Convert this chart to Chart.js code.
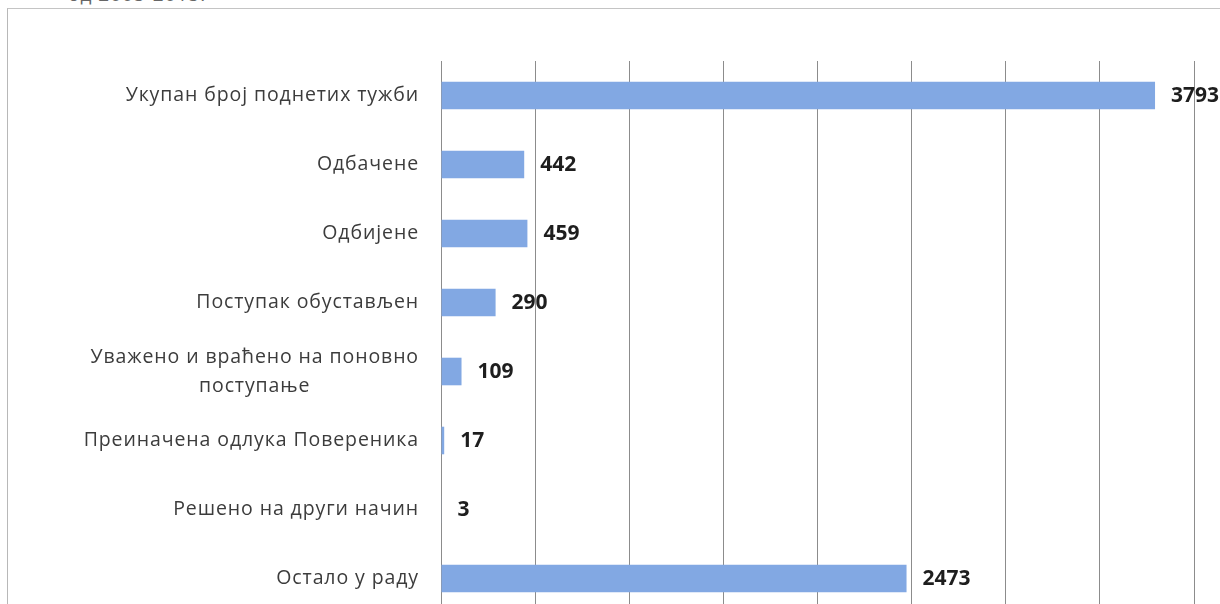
<!DOCTYPE html>
<html>
<head>
<meta charset="utf-8">
<script src="https://cdn.jsdelivr.net/npm/chart.js@4"></script>
<style>
    html, body { margin: 0; padding: 0; background: #ffffff; overflow: hidden; }
    #page { position: relative; width: 1220px; height: 604px; overflow: hidden; }
    #caption { position: absolute; left: 68px; top: -19px; font: 19px "Open Sans", sans-serif; letter-spacing: 1px; color: #666666; }
    #frame { position: absolute; left: 7px; top: 8px; width: 1230px; height: 700px; border-left: 1.5px solid #b8b8b8; border-top: 1.5px solid #c4c4c4; }
    #chartBox { position: absolute; left: 0; top: 0; width: 1220px; height: 620px; }
</style>
</head>
<body>
<div id="page">
    <div id="caption">од 2005-2015.</div>
    <div id="frame"></div>
    <div id="chartBox"><canvas id="chartCanvas"></canvas></div>
</div>
<script>
"use strict";

// Categories (top to bottom) and values
const categories = [
    "Укупан број поднетих тужби",
    "Одбачене",
    "Одбијене",
    "Поступак обустављен",
    ["Уважено и враћено на поновно", "поступање"],
    "Преиначена одлука Повереника",
    "Решено на други начин",
    "Остало у раду"
];
const values = [3793, 442, 459, 290, 109, 17, 3, 2473];

const axisMax = 4000;
const axisStep = 500;

const barColor = "#82a8e3";
const gridColor = "#8c8c8c";
const labelFont = "19.5px 'Open Sans', sans-serif";
const valueFont = "bold 21px 'Open Sans', sans-serif";

// Draws the category labels (multi-line ones centred on each other) and value labels
const labelPlugin = {
    id: "labelPlugin",
    afterDatasetsDraw(chart) {
        const c = chart.ctx;
        const yScale = chart.scales.y;
        const xScale = chart.scales.x;
        const meta = chart.getDatasetMeta(0);

        c.save();
        c.textBaseline = "middle";

        // category labels
        c.font = labelFont;
        c.letterSpacing = "0.9px";
        c.fillStyle = "#3c3c3c";
        const rightEdge = chart.chartArea.left - 22;
        categories.forEach((cat, i) => {
            const y = yScale.getPixelForValue(i);
            const lines = Array.isArray(cat) ? cat : [cat];
            const widest = Math.max(...lines.map(l => c.measureText(l).width));
            const lineH = 29;
            lines.forEach((line, j) => {
                const ly = y + (j - (lines.length - 1) / 2) * lineH;
                c.textAlign = "center";
                c.fillText(line, rightEdge - widest / 2, ly);
            });
        });

        // value labels
        c.font = valueFont;
        c.letterSpacing = "0px";
        c.fillStyle = "#1e1e1e";
        c.textAlign = "left";
        meta.data.forEach((bar, i) => {
            const x = xScale.getPixelForValue(values[i]) + 16;
            c.fillText(String(values[i]), x, bar.y + 1);
        });
        c.restore();
    }
};

function handleOnLoad() {
    const config = {
        type: "bar",
        data: {
            labels: categories,
            datasets: [{
                data: values,
                backgroundColor: barColor,
                borderWidth: 0,
                categoryPercentage: 1.0,
                barPercentage: 0.4
            }]
        },
        options: {
            indexAxis: "y",
            responsive: true,
            maintainAspectRatio: false,
            animation: false,
            layout: { padding: { left: 441, top: 61, right: 26, bottom: 7 } },
            plugins: {
                legend: { display: false },
                tooltip: { enabled: false },
                title: { display: false }
            },
            scales: {
                x: {
                    min: 0,
                    max: axisMax,
                    ticks: { display: false, stepSize: axisStep },
                    grid: { color: gridColor, lineWidth: 1, drawTicks: false },
                    border: { display: false }
                },
                y: {
                    ticks: { display: false },
                    grid: { display: false, drawTicks: false },
                    border: { display: true, color: gridColor, width: 1 }
                }
            }
        },
        plugins: [labelPlugin]
    };

    const ctx = document.getElementById("chartCanvas").getContext("2d");
    new Chart(ctx, config);
}

handleOnLoad();
</script>
</body>
</html>
